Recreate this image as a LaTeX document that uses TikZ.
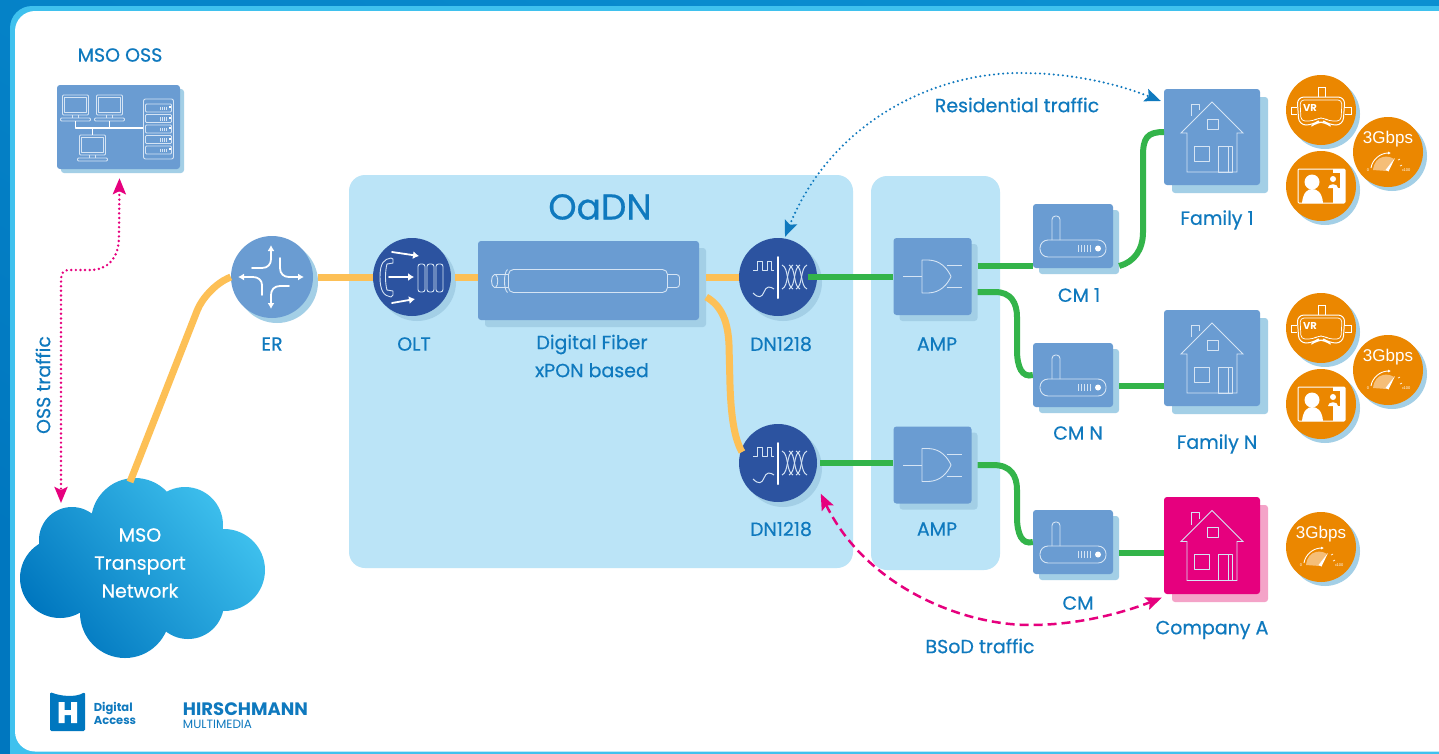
\documentclass[tikz,border=0pt]{standalone}
\usepackage{fontspec}
\setmainfont{Poppins}[UprightFeatures={FakeBold=0.5}]
\newfontfamily\plainfont{Poppins}
\newfontfamily\gaugefont{Liberation Sans}
\usepackage{xcolor}
\usetikzlibrary{arrows.meta,shadows}
\definecolor{framelo}{HTML}{0077BF}
\definecolor{framehi}{HTML}{0B8FD1}
\definecolor{frameln}{HTML}{3FC1EE}
\definecolor{panel}{HTML}{BBE4F7}
\definecolor{tilec}{HTML}{6A9CD2}
\definecolor{shadec}{HTML}{A3CFE6}
\definecolor{deep}{HTML}{2C53A0}
\definecolor{labc}{HTML}{0F79BE}
\definecolor{fibre}{HTML}{FDC056}
\definecolor{coax}{HTML}{33B44A}
\definecolor{pink}{HTML}{E6007E}
\definecolor{pinkshade}{HTML}{F4A3C8}
\definecolor{orange}{HTML}{EB8700}
\definecolor{gaugec}{HTML}{F5BE78}
\definecolor{iconc}{HTML}{D5E4F4}
\tikzset{
  tile/.style={fill=tilec, rounded corners=3pt, inner sep=0pt, general shadow={fill=shadec, shadow xshift=#1, shadow yshift=-#1}},
  tile/.default=6pt,
  disc/.style={circle, inner sep=0pt, minimum size=#1},
  lab/.style={text=labc, font=\fontsize{19}{28}\selectfont, align=center, inner sep=0pt},
  wirey/.style={draw=fibre, line width=7pt},
  wireg/.style={draw=coax, line width=6pt},
  icon/.style={draw=iconc, line width=0.9pt, line join=round},
  iconw/.style={draw=white, line width=1.8pt, line cap=round, line join=round},
  dots/.style={line width=#1, line cap=round, dash pattern=on 0pt off 4.6pt, {Stealth[length=16pt,width=13pt,inset=3pt]}-{Stealth[length=16pt,width=13pt,inset=3pt]}},
  dashes/.style={line width=2.5pt, dash pattern=on 9pt off 5pt, {Stealth[length=16pt,width=13pt,inset=3pt]}-{Stealth[length=16pt,width=13pt,inset=3pt]}},
  pics/monitor/.style={code={
    \draw[icon, rounded corners=1pt] (-13,-10) rectangle (13,10);
    \draw[icon] (-11,-8) rectangle (11,7) (-3,10) -- (-3,13) (3,10) -- (3,13);
    \draw[icon, rounded corners=1pt] (-15,13) rectangle (15,16);
  }},
  pics/rackrow/.style={code={
    \draw[icon, rounded corners=1pt] (0,0) rectangle (26,8);
    \foreach \tx in {15,17,19,21} \draw[icon, line width=0.5pt] (\tx,2.5) -- (\tx,6);
    \fill[white] (23,2) rectangle (25,4);
  }},
  pics/ossicon/.style={code={
    \pic at (-43,-22) {monitor};
    \pic at (-9,-22) {monitor};
    \pic at (-26,18) {monitor};
    \draw[iconw, line cap=butt] (-43,-6) -- (-43,1) -- (25,1) (-9,-6) -- (-9,1) (-26,1) -- (-26,8);
    \draw[icon, rounded corners=2pt] (25,-28) rectangle (55,32);
    \foreach \ry in {-23,-12.5,-2,8.5,19} \pic at (27,\ry) {rackrow};
  }},
  pics/ericon/.style={code={
    \draw[iconw, -{Latex[length=6pt,width=7pt]}] (-20,-9) -- (-10,-9) .. controls (-4,-9) and (-1,-13) .. (-1,-18) -- (-1,-32);
    \draw[iconw, -{Latex[length=6pt,width=7pt]}] (8,-19) -- (8,-9) .. controls (8,-3) and (12,0) .. (17,0) -- (32,0);
    \draw[iconw, -{Latex[length=6pt,width=7pt]}] (-10,18) -- (-10,8) .. controls (-10,3) and (-14,0) .. (-19,0) -- (-34,0);
    \draw[iconw, -{Latex[length=6pt,width=7pt]}] (17,9) -- (8,9) .. controls (2,9) and (-1,13) .. (-1,18) -- (-1,32);
  }},
  pics/olticon/.style={code={
    \draw[icon] (-21,-19) .. controls (-28,-18) and (-32,-14) .. (-32,0) .. controls (-32,14) and (-28,19) .. (-21,20) -- (-19,18) -- (-19,14) -- (-25,13) .. controls (-27,6) and (-27,-6) .. (-25,-13) -- (-19,-14) -- (-19,-18) -- cycle;
    \foreach \tx in {6,15,24} \draw[icon, rounded corners=2.5pt] (\tx,-13) rectangle (\tx+7,15);
    \draw[iconw, -{Latex[length=6pt,width=8pt]}] (-20,-25) -- (7,-21);
    \draw[iconw, -{Latex[length=6pt,width=8pt]}] (-23,0) -- (2,0);
    \draw[iconw, -{Latex[length=6pt,width=8pt]}] (-20,26) -- (3,22);
  }},
  pics/fibreicon/.style={code={
    \draw[icon, rounded corners=5pt] (-80,-11) rectangle (79,12);
    \draw[icon] (-81,-11) .. controls (-85,-8) and (-85,9) .. (-81,12);
    \draw[icon] (-80,-6) -- (-94,-6) .. controls (-98,-5) and (-98,6) .. (-94,7) -- (-80,7);
    \draw[icon] (-93,-6) .. controls (-90,-4) and (-90,5) .. (-93,7);
    \draw[icon, rounded corners=3pt] (79,-6) -- (91,-6) -- (91,7) -- (79,7);
  }},
  pics/dnicon/.style={code={
    \draw[iconw, line width=2pt] (0,-20) -- (0,21);
    \draw[icon, line width=1pt] (-25,-7) -- (-21,-7) -- (-21,-16) -- (-16,-16) -- (-16,-7) -- (-11,-7) -- (-11,-16) -- (-7,-16) -- (-7,-7) -- (-4,-7);
    \draw[icon, line width=1pt] (-25,16) .. controls (-19,22) and (-16,20) .. (-14,15) .. controls (-12,9) and (-8,9) .. (-4,12);
    \foreach \tw in {6,13,20} {
      \draw[icon, line width=1pt] (\tw-2,-12) .. controls (\tw+5,-9) and (\tw+2,9) .. (\tw+9,12);
      \draw[icon, line width=1pt] (\tw-2,12) .. controls (\tw+5,9) and (\tw+2,-9) .. (\tw+9,-12);
    }
  }},
  pics/ampicon/.style={code={
    \draw[icon] (-10.5,-16.5) -- (-4,-16.5) .. controls (8,-16) and (15,-8) .. (18.5,0) .. controls (15,8) and (8,16) .. (-4,16.5) -- (-10.5,16.5) -- cycle;
    \draw[icon] (-29.5,0) -- (-10.5,0) (14,-11) -- (29,-11) (14,11) -- (29,11);
  }},
  pics/cmicon/.style={code={
    \draw[icon, rounded corners=8pt] (-33,4) rectangle (33,21);
    \draw[icon, rounded corners=3.5pt] (-21,4) -- (-21,-20) -- (-13,-20) -- (-13,4);
    \foreach \tx in {5,8,11,14,17} \draw[icon] (\tx,9) -- (\tx,16);
    \fill[white] (25,12.5) circle (3);
  }},
  pics/houseicon/.style={code={
    \draw[icon, line join=miter] (-25,35) -- (25,35) -- (25,-4) -- (31,-4) -- (0,-35) -- (-31,-4) -- (-25,-4) -- cycle;
    \draw[icon] (-21,-21) -- (-21,-33) -- (-13,-33) -- (-13,-27);
    \draw[icon] (-5,-18) rectangle (6,-8) (-18,9) rectangle (-3,24) (6,9) rectangle (20,35);
    \draw[icon] (16,9) -- (16,35);
  }},
  pics/vricon/.style={code={
    \draw[draw=white, line width=1pt, rounded corners=7pt] (-24,-13) -- (24,-13) -- (22,15) -- (8,15) -- (4,12) -- (-4,12) -- (-8,15) -- (-22,15) -- cycle;
    \draw[draw=white, line width=0.7pt, rounded corners=4pt] (-21,-10) -- (21,-10) -- (20,11) -- (8,11) -- (3,8) -- (-3,8) -- (-8,11) -- (-20,11) -- cycle;
    \draw[draw=white, line width=1pt] (-3,-13) -- (-3,-23) -- (4,-23) -- (4,-13);
    \draw[draw=white, line width=1pt] (-24,-3) -- (-30,-3) -- (-30,4) -- (-24,4) (24,-3) -- (30,-3) -- (30,4) -- (24,4);
    \node[text=white, font=\fontsize{10}{10}\selectfont\bfseries, inner sep=0pt] (-vr) at (-11,-2) {VR};
  }},
  pics/videoicon/.style={code={
    \draw[draw=white, line width=1pt, rounded corners=1pt, fill=orange] (-23,-17) rectangle (24,17);
    \fill[white] (12,-17) rectangle (24,17);
    \fill[orange] (5,-13) rectangle (19,2);
    \fill[white] (12,-7) circle (3) (7,2) .. controls (7,-3) and (17,-3) .. (17,2) -- cycle;
    \fill[white] (-9,-4) circle (7.5);
    \fill[white] (-19,17) .. controls (-18,6) and (-13,3) .. (-9,3) .. controls (-4,3) and (1,6) .. (2,17) -- cycle;
  }},
  pics/gauge/.style={code={
    \node[text=white, font=\gaugefont\fontsize{17}{17}\selectfont, inner sep=0pt] (-speed) at (0,-13) {3Gbps};
    \fill[gaugec] (-15,18) .. controls (-14,10) and (-10,6) .. (-5,5) .. controls (-1,4) and (3,5) .. (6,7) -- (-1,19) -- cycle;
    \draw[draw=white, line width=0.9pt, -{Latex[length=3pt,width=3pt]}] (-17,16) .. controls (-16,8) and (-8,1) .. (3,1);
    \fill[white] (-2.5,18) -- (7,6) -- (0.5,19.5) -- cycle;
    \draw[draw=white, line width=0.7pt] (10,8) -- (12,7) (12,14) -- (14,13) (14,18) -- (15.5,18);
    \node[text=white, font=\gaugefont\fontsize{4}{4}\selectfont, inner sep=0pt] (-low) at (-20,18) {0};
    \node[text=white, font=\gaugefont\fontsize{4}{4}\selectfont, inner sep=0pt] (-high) at (19,18) {100};
  }},
}
\begin{document}
\begin{tikzpicture}[x=1pt,y=-1pt]
  \useasboundingbox (0,0) rectangle (1439,753);
  % frame
  \shade[bottom color=framelo, top color=framehi, shading angle=-30] (0,0) rectangle (1439,753);
  \fill[frameln, rounded corners=22pt] (10,6) rectangle (1470,790);
  \fill[white, rounded corners=20pt] (15,11) rectangle (1470,751.5);
  \fill[panel, rounded corners=16pt] (349,175) rectangle (853,568);
  \fill[panel, rounded corners=16pt] (871,176) rectangle (1000,570);
  % cloud
  \shade[top color=frameln, bottom color=framelo, shading angle=-50]
    (140,560) circle (62) (135,522) circle (44) (72,540) circle (33) (60,578) circle (40)
    (125,613) circle (45) (188,603) circle (36) (224,570) circle (41) (185,525) circle (38);
  \node[lab, text=white] (cloud) at (140,563) {MSO\\Transport\\Network};
  \coordinate (cloudtop) at (130,482);
  \coordinate (cloudtip) at (61,503);
  % nodes
  \node[tile=4pt, minimum width=123pt, minimum height=84pt] (oss) at (118.5,127) {};
  \node[disc=82pt, fill=tilec, general shadow={fill=shadec, shadow xshift=5pt, shadow yshift=-5pt}] (er) at (272,277) {};
  \node[disc=78pt, fill=deep, general shadow={fill=shadec, shadow xshift=5pt, shadow yshift=-5pt}] (olt) at (412,277) {};
  \node[disc=78pt, fill=deep, general shadow={fill=shadec, shadow xshift=5pt, shadow yshift=-5pt}] (dna) at (778,277) {};
  \node[disc=78pt, fill=deep, general shadow={fill=shadec, shadow xshift=5pt, shadow yshift=-5pt}] (dnb) at (778,463) {};
  \node[tile=7pt, minimum width=221pt, minimum height=79pt] (fiber) at (588.5,280.5) {};
  \node[tile, minimum width=78pt, minimum height=77pt] (ampa) at (932.5,276.5) {};
  \node[tile, minimum width=78pt, minimum height=77pt] (ampb) at (932.5,465) {};
  \node[tile, minimum width=80pt, minimum height=64pt] (cma) at (1073,236) {};
  \node[tile, minimum width=80pt, minimum height=64pt] (cmb) at (1073,375) {};
  \node[tile, minimum width=80pt, minimum height=64pt] (cmc) at (1073,542) {};
  \node[tile=8pt, minimum width=96pt, minimum height=96pt] (fama) at (1212,137) {};
  \node[tile=8pt, minimum width=96pt, minimum height=96pt] (famb) at (1212,358) {};
  \node[fill=pink, rounded corners=3pt, inner sep=0pt, general shadow={fill=pinkshade, shadow xshift=8pt, shadow yshift=-8pt}, minimum width=96pt, minimum height=97pt] (coma) at (1212,545.5) {};
  % connectors
  \draw[wirey, rounded corners=24pt] (cloudtop) -- (206,288) -- (er.west);
  \draw[wirey] ([xshift=5pt]er.east) -- (olt.west);
  \draw[wirey] ([xshift=4pt]olt.east) -- (fiber.west |- olt.east);
  \draw[wirey] ([shift={(7,-3.5)}]fiber.east) -- (dna.west);
  \draw[wirey] ([shift={(7,16.5)}]fiber.east) .. controls (722,306) and (728,322) .. (729,345) -- (730,385) .. controls (731,415) and (734,438) .. (742,452);
  \draw[wireg] ([xshift=-9pt]dna.east) -- (ampa.west |- dna.east);
  \draw[wireg] ([xshift=3pt]dnb.east) -- (ampb.west |- dnb.east);
  \draw[wireg] ([shift={(6,-10.5)}]ampa.east) -- (cma.west |- 0,266);
  \draw[wireg] ([shift={(6,15.5)}]ampa.east) -- (995,292) .. controls (1011,292) and (1017,303) .. (1017,317) -- (1017,350) .. controls (1017,367) and (1022,378) .. (cmb.west);
  \draw[wireg] ([shift={(6,-0)}]ampb.east) -- (993,465) .. controls (1011,465) and (1017,476) .. (1017,490) -- (1017,517) .. controls (1017,534) and (1022,545) .. (cmc.west);
  \draw[wireg] ([shift={(6,30)}]cma.east) .. controls (1134,262) and (1143,250) .. (1143,232) -- (1143,156) .. controls (1143,138) and (1147,132) .. (1164,132);
  \draw[wireg] ([shift={(6,11)}]cmb.east) -- (famb.west |- 0,386);
  \draw[wireg] ([shift={(6,11)}]cmc.east) -- (coma.west |- 0,553);
  \draw[dots=2.7pt, pink] ([shift={(1,9)}]oss.south) -- (119,236) .. controls (119,258) and (108,270) .. (90,270) -- (70,270) .. controls (63,270) and (61,273) .. (61,282) -- (cloudtip);
  \draw[dots=2.3pt, labc] ([shift={(7,-1)}]dna.north) .. controls (830,125) and (930,73) .. (1020,73) .. controls (1075,73) and (1120,85) .. ([shift={(-3,-36)}]fama.west);
  \draw[dashes, pink] ([shift={(15,3)}]dnb.south east) .. controls (865,585) and (960,625) .. (1030,625) .. controls (1080,625) and (1125,612) .. ([shift={(-2,3.5)}]coma.south west);
  % icons
  \pic at (oss) {ossicon};
  \pic at (er) {ericon};
  \pic at (olt) {olticon};
  \pic at (fiber) {fibreicon};
  \foreach \X in {dna,dnb} \pic at (\X) {dnicon};
  \foreach \X in {ampa,ampb} \pic at (\X) {ampicon};
  \foreach \X in {cma,cmb,cmc} \pic at (\X) {cmicon};
  \foreach \X in {fama,famb,coma} \pic at (\X) {houseicon};
  \foreach \N/\cy in {a/110,b/328} {
    \node[disc=70pt, fill=orange, general shadow={fill=shadec, shadow xshift=4pt, shadow yshift=-4pt}] (vr\N) at (1321,\cy) {};
    \pic at (vr\N) {vricon};
    \node[disc=70pt, fill=orange, general shadow={fill=shadec, shadow xshift=4pt, shadow yshift=-4pt}] (video\N) at (1321,\cy+76) {};
    \pic at (video\N) {videoicon};
    \node[disc=70pt, fill=orange, general shadow={fill=shadec, shadow xshift=4pt, shadow yshift=-4pt}] (speed\N) at (1388,\cy+42) {};
    \pic (g\N) at (speed\N) {gauge};
  }
  \node[disc=70pt, fill=orange, general shadow={fill=shadec, shadow xshift=4pt, shadow yshift=-4pt}] (speedc) at (1321,547) {};
  \pic (gc) at (speedc) {gauge};
  % labels
  \foreach \N/\tx/\ty/\T in {losso/120/55/MSO OSS,ler/272/344/ER,lolt/414/344/OLT,
      ldna/781/344/DN1218,ldnb/781/529/DN1218,lampa/937/344/AMP,lampb/937/529/AMP,
      lcma/1079/295/CM 1,lcmb/1078/433/CM N,lcmc/1078/603/CM,lfama/1217/220/Family 1,
      lfamb/1217/444/Family N,lcoma/1212/630/Company A,lres/1017/105/Residential traffic,
      lbsod/980/646/BSoD traffic}
    \node[lab] (\N) at (\tx,\ty) {\T};
  \node[lab] (lfiber) at (592,356) {Digital Fiber\\xPON based};
  \node[lab, rotate=90] (loss) at (43,385) {OSS traffic};
  \node[lab, font=\fontsize{36}{38}\selectfont] (loadn) at (600,207) {OaDN};
  % logos
  \fill[framelo, rounded corners=1.5pt] (50,692) .. controls (60,696) and (75,698) .. (85,692) -- (85,731) -- (50,731) -- cycle;
  \fill[white] (58.5,702) rectangle (64.5,723) (71,702) rectangle (77,723) (58.5,710) rectangle (77,715);
  \node[text=labc, font=\fontsize{11.5}{13}\selectfont\bfseries, align=left, inner sep=0pt] (ldigital) at (115,713) {Digital\\Access};
  \node[text=labc, font=\fontsize{18}{18}\selectfont\bfseries, inner sep=0pt] (lhirsch) at (245.5,709) {HIRSCHMANN};
  \node[text=labc, font=\plainfont\fontsize{12}{12}\selectfont, inner sep=0pt] (lmulti) at (217.5,724) {MULTIMEDIA};
\end{tikzpicture}
\end{document}
